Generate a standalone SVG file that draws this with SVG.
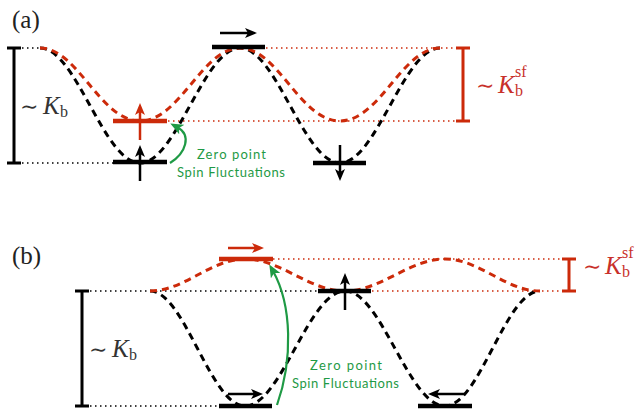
<svg xmlns="http://www.w3.org/2000/svg" width="641" height="409" viewBox="0 0 641 409">
<defs>
<style>
.lbl{font-family:"Liberation Serif","Times New Roman",serif;font-size:25px;fill:#222}
.math{font-family:"Liberation Serif","DejaVu Serif",serif;font-size:24px}
.til{font-family:"DejaVu Serif",serif;font-size:22px}
.k{font-family:"Liberation Serif",serif;font-style:italic;font-size:25px}
.sub{font-family:"Liberation Serif",serif;font-size:16px}
.red{fill:#c8302a}
.blk{fill:#333}
.gtx{font-family:Lato,"Open Sans",sans-serif;font-size:13px;fill:#1f9a45}
.dk{fill:none;stroke:#000;stroke-width:3;stroke-dasharray:7 5}
.dr{fill:none;stroke:#cc2a0a;stroke-width:3;stroke-dasharray:7 5}
.dotk{fill:none;stroke:#000;stroke-width:1.5;stroke-dasharray:1.5 3.5}
.dotr{fill:none;stroke:#cc2a0a;stroke-width:1.5;stroke-dasharray:1.5 3.5}
.levk{stroke:#000;stroke-width:4.5}
.levr{stroke:#cc2a0a;stroke-width:4.5}
.sbk{fill:none;stroke:#000;stroke-width:3}
.sbr{fill:none;stroke:#cc2a0a;stroke-width:3}
.ak{stroke:#000;stroke-width:2.5;marker-end:url(#mk)}
.ar{stroke:#cc2a0a;stroke-width:2.5;marker-end:url(#mr)}
.ag{fill:none;stroke:#1f9a45;stroke-width:2.2;marker-end:url(#mg)}
</style>
<marker id="mk" viewBox="0 0 12 10" refX="5" refY="5" markerWidth="12" markerHeight="10" markerUnits="userSpaceOnUse" orient="auto"><path d="M0,0 L12,5 L0,10 L3,5 z" fill="#000"/></marker>
<marker id="mr" viewBox="0 0 12 10" refX="5" refY="5" markerWidth="12" markerHeight="10" markerUnits="userSpaceOnUse" orient="auto"><path d="M0,0 L12,5 L0,10 L3,5 z" fill="#cc2a0a"/></marker>
<marker id="mg" viewBox="0 0 12 10" refX="5" refY="5" markerWidth="13" markerHeight="11" markerUnits="userSpaceOnUse" orient="auto"><path d="M0,0 L12,5 L0,10 L3,5 z" fill="#1f9a45"/></marker>
</defs>
<rect width="641" height="409" fill="#fff"/>

<g id="panel-a">
  <text class="lbl" x="12" y="28">(a)</text>
  <g id="guides-a">
    <path class="dotk" d="M22,48 H40 M22,163 H114"/>
    <path class="dotr" d="M266,48 H457 M168,121 H457"/>
  </g>
  <g id="scale-kb-a">
    <path class="sbk" d="M14,48 V163 M7,48 H21 M7,163 H21"/>
    <text class="math blk" y="114"><tspan class="til" x="20">∼</tspan><tspan class="k" x="43">K</tspan><tspan class="sub" x="60" dy="3">b</tspan></text>
  </g>
  <g id="scale-ksf-a">
    <path class="sbr" d="M463,48 V121 M456,48 H470 M456,121 H470"/>
    <text class="math red" y="93"><tspan class="til" x="476">∼</tspan><tspan class="k" x="498">K</tspan><tspan class="sub" x="515" dy="3">b</tspan><tspan class="sub" x="515" dy="-19">sf</tspan></text>
  </g>
  <g id="curves-a">
    <path class="dk" d="M40,48 C76.3,48 103.7,163 140,163 C176.3,163 203.7,48 240,48 C276.3,48 303.7,163 340,163 C376.3,163 403.7,48 440,48"/>
    <path class="dr" d="M40,48 C78,48 100,121 140,121 C180,121 202,48 240,48 C278,48 300,121 340,121 C380,121 402,48 440,48"/>
  </g>
  <g id="state-a-top">
    <line class="levk" x1="212" y1="47" x2="265" y2="47"/>
    <line class="ak" x1="220" y1="33" x2="250" y2="33"/>
  </g>
  <g id="state-a-red">
    <line class="levr" x1="113" y1="121" x2="167" y2="121"/>
    <line class="ar" x1="140" y1="140" x2="140" y2="110"/>
  </g>
  <g id="state-a-left">
    <line class="levk" x1="113" y1="162" x2="167" y2="162"/>
    <line class="ak" x1="140" y1="181" x2="140" y2="152"/>
  </g>
  <g id="state-a-right">
    <line class="levk" x1="313" y1="163" x2="366" y2="163"/>
    <line class="ak" x1="340" y1="145" x2="340" y2="174"/>
  </g>
  <g id="zpsf-a">
    <path class="ag" d="M170,163 C186,153 192,135 177,127"/>
    <text class="gtx" x="231.5" y="159" text-anchor="middle" textLength="69">Zero point</text>
    <text class="gtx" x="231" y="177" text-anchor="middle" textLength="108">Spin Fluctuations</text>
  </g>
</g>

<g id="panel-b">
  <text class="lbl" x="12" y="264">(b)</text>
  <g id="guides-b">
    <path class="dotk" d="M90,291 H150 M90,406 H219 M150,291 H318"/>
    <path class="dotr" d="M273,259 H563 M372,291 H563"/>
  </g>
  <g id="scale-kb-b">
    <path class="sbk" d="M82,291 V406 M75,291 H89 M75,406 H89"/>
    <text class="math blk" y="357"><tspan class="til" x="89">∼</tspan><tspan class="k" x="112">K</tspan><tspan class="sub" x="129" dy="3">b</tspan></text>
  </g>
  <g id="scale-ksf-b">
    <path class="sbr" d="M569,259 V291 M562,259 H576 M562,291 H576"/>
    <text class="math red" y="274"><tspan class="til" x="583">∼</tspan><tspan class="k" x="605">K</tspan><tspan class="sub" x="622" dy="3">b</tspan><tspan class="sub" x="622" dy="-19">sf</tspan></text>
  </g>
  <g id="curves-b">
    <path class="dk" d="M150,291 C184.5,291 210.5,406 245,406 C281.3,406 308.7,291 345,291 C381.3,291 408.7,406 445,406 C479.5,406 505.5,291 540,291"/>
    <path class="dr" d="M150,291 C184.5,291 210.5,259 245,259 C281.3,259 308.7,291 345,291 C381.3,291 408.7,259 445,259 C479.5,259 505.5,291 540,291"/>
  </g>
  <g id="state-b-red">
    <line class="levr" x1="219" y1="259" x2="273" y2="259"/>
    <line class="ar" x1="228" y1="248" x2="257" y2="248"/>
  </g>
  <g id="state-b-top">
    <line class="levk" x1="318" y1="291" x2="371" y2="291"/>
    <line class="ak" x1="345" y1="310" x2="345" y2="280"/>
  </g>
  <g id="state-b-left">
    <line class="levk" x1="219" y1="406" x2="272" y2="406"/>
    <line class="ak" x1="228" y1="394" x2="256" y2="394"/>
  </g>
  <g id="state-b-right">
    <line class="levk" x1="418" y1="406" x2="472" y2="406"/>
    <line class="ak" x1="465" y1="394" x2="435" y2="394"/>
  </g>
  <g id="zpsf-b">
    <path class="ag" d="M277,405 C293,360 292,305 273,271"/>
    <text class="gtx" x="346" y="370" text-anchor="middle" textLength="72">Zero point</text>
    <text class="gtx" x="345.5" y="388" text-anchor="middle" textLength="107">Spin Fluctuations</text>
  </g>
</g>
</svg>
